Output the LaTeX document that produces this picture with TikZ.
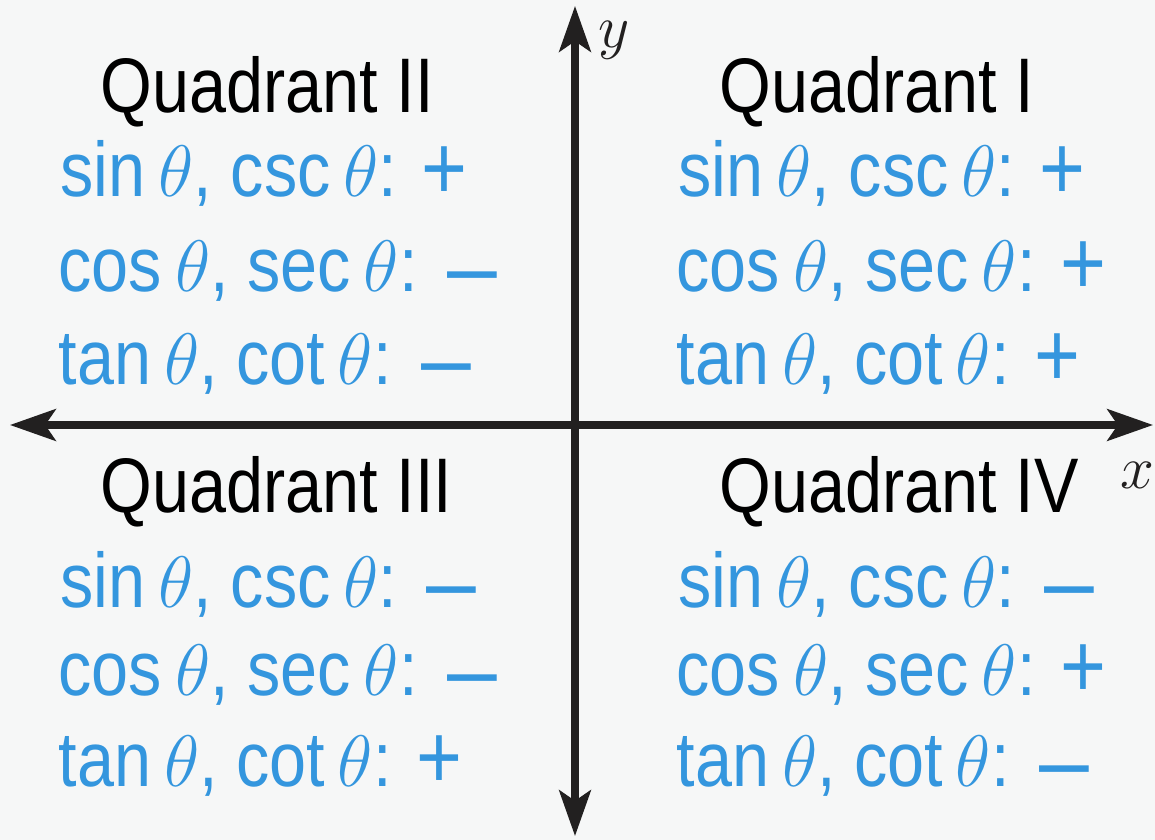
\documentclass[tikz,border=0pt]{standalone}
\usepackage{fontspec}
\setmainfont{Liberation Sans}[FakeStretch=0.86]
\usetikzlibrary{arrows.meta,positioning}
\definecolor{signblue}{RGB}{52,150,222}
\definecolor{paper}{RGB}{246,247,247}
\definecolor{axisgray}{RGB}{34,32,32}
\newcommand{\pos}{\smash{\raisebox{-0.8pt}{\fontsize{26}{26}\selectfont +}}}
\newcommand{\negv}{\smash{\raisebox{-3.7pt}{\scalebox{1.3}[1]{\fontsize{26}{26}\selectfont −}}}}

\begin{document}
\begin{tikzpicture}[x=0.01cm, y=-0.01cm,
  quad/.style={anchor=base west, inner sep=0pt, font=\fontsize{22}{26}\selectfont, text=black},
  sign/.style={anchor=base west, inner sep=0pt, font=\fontsize{22}{26}\selectfont, text=signblue},
  axis/.style={draw=axisgray, line width=2pt,
               {Stealth[length=13pt, width=9pt, inset=3pt]}-{Stealth[length=13pt, width=9pt, inset=3pt]}},
  lbl/.style={inner sep=0pt, font=\fontsize{17}{20}\selectfont, text=axisgray},
]
  % background and frame
  \fill[paper] (0,0) rectangle (1155,840);
  \useasboundingbox (0,0) rectangle (1155,840);

  % axes
  \coordinate (xl) at (10,425);
  \coordinate (xr) at (1153,425);
  \coordinate (yt) at (575,6);
  \coordinate (yb) at (575,836);
  \draw[axis] (xl) -- (xr);
  \draw[axis] (yb) -- (yt);
  \node[lbl, anchor=base west] (ylab) at (598,48) {$y$};
  \node[lbl, anchor=base west] (xlab) at (1120,488) {$x$};

  % Quadrant II
  \node[quad] (q2) at (100,113) {Quadrant II};
  \node[sign] (q2a) at (60,197) {sin\,$\theta$, csc\,$\theta$: \pos};
  \node[sign] (q2b) at (58,292) {cos\,$\theta$, sec\,$\theta$: \negv};
  \node[sign] (q2c) at (58,384) {tan\,$\theta$, cot\,$\theta$: \negv};

  % Quadrant I
  \node[quad] (q1) at (719,113) {Quadrant I};
  \node[sign] (q1a) at (678,197) {sin\,$\theta$, csc\,$\theta$: \pos};
  \node[sign] (q1b) at (676,292) {cos\,$\theta$, sec\,$\theta$: \pos};
  \node[sign] (q1c) at (676,384) {tan\,$\theta$, cot\,$\theta$: \pos};

  % Quadrant III
  \node[quad] (q3) at (100,512) {Quadrant III};
  \node[sign] (q3a) at (60,607) {sin\,$\theta$, csc\,$\theta$: \negv};
  \node[sign] (q3b) at (58,695) {cos\,$\theta$, sec\,$\theta$: \negv};
  \node[sign] (q3c) at (58,786) {tan\,$\theta$, cot\,$\theta$: \pos};

  % Quadrant IV
  \node[quad] (q4) at (719,512) {Quadrant IV};
  \node[sign] (q4a) at (678,607) {sin\,$\theta$, csc\,$\theta$: \negv};
  \node[sign] (q4b) at (676,695) {cos\,$\theta$, sec\,$\theta$: \pos};
  \node[sign] (q4c) at (676,786) {tan\,$\theta$, cot\,$\theta$: \negv};

\end{tikzpicture}
\end{document}
